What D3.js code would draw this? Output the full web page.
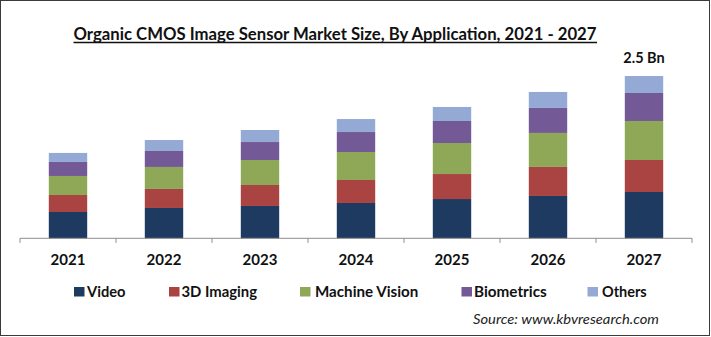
<!DOCTYPE html>
<html>
<head>
<meta charset="utf-8">
<script src="https://cdn.jsdelivr.net/npm/d3@7/dist/d3.min.js"></script>
<style>
  html, body { margin: 0; padding: 0; background: #ffffff; }
  svg { display: block; }
  text { font-family: Lato, "Open Sans", "Liberation Sans", sans-serif; }
</style>
</head>
<body>
<svg id="chart" width="711" height="337"></svg>
<script>
// Market size by application (USD Bn), 2021 - 2027
const years = ["2021", "2022", "2023", "2024", "2025", "2026", "2027"];
const video = [0.405, 0.467, 0.498, 0.544, 0.605, 0.652, 0.713];
const imaging3d = [0.262, 0.293, 0.323, 0.354, 0.385, 0.447, 0.493];
const machineVision = [0.293, 0.339, 0.385, 0.431, 0.478, 0.524, 0.601];
const biometrics = [0.216, 0.246, 0.277, 0.308, 0.339, 0.385, 0.431];
const others = [0.139, 0.169, 0.185, 0.200, 0.216, 0.246, 0.262];

const seriesNames = ["Video", "3D Imaging", "Machine Vision", "Biometrics", "Others"];
const seriesColors = ["#1F3A60", "#A94442", "#8EA857", "#735A96", "#94AAD5"];
const totalLabel = "2.5 Bn";

const titleText = "Organic CMOS Image Sensor Market Size, By Application, 2021 - 2027";
const sourceText = "Source: www.kbvresearch.com";

const seriesValues = [video, imaging3d, machineVision, biometrics, others];
const rows = years.map((yr, i) => {
  const r = { year: yr };
  seriesNames.forEach((s, j) => { r[s] = seriesValues[j][i]; });
  return r;
});

const svg = d3.select("#chart");

// outer frame
svg.append("rect")
  .attr("x", 0.5).attr("y", 0.5)
  .attr("width", 709).attr("height", 335)
  .attr("fill", "#ffffff")
  .attr("stroke", "#3a3a3a").attr("stroke-width", 1);

// title with underline
svg.append("text")
  .attr("x", 73.5).attr("y", 40)
  .attr("font-size", 16.5).attr("font-weight", "bold")
  .attr("fill", "#111")
  .attr("textLength", 523).attr("lengthAdjust", "spacingAndGlyphs")
  .text(titleText);
svg.append("line")
  .attr("x1", 73.5).attr("x2", 597)
  .attr("y1", 42.5).attr("y2", 42.5)
  .attr("stroke", "#111").attr("stroke-width", 1.3);

// scales
const x = d3.scaleBand()
  .domain(years)
  .range([20, 692])
  .paddingInner(0.6)
  .paddingOuter(0.3);

const baseY = 238.3;
const y = d3.scaleLinear()
  .domain([0, 2.5])
  .range([baseY, 76]);

const stacked = d3.stack().keys(seriesNames)(rows);

svg.append("g")
  .selectAll("g")
  .data(stacked)
  .join("g")
  .attr("fill", (d, i) => seriesColors[i])
  .selectAll("rect")
  .data(d => d)
  .join("rect")
  .attr("x", d => x(d.data.year))
  .attr("width", x.bandwidth())
  .attr("y", d => y(d[1]))
  .attr("height", d => y(d[0]) - y(d[1]));

// category axis: baseline plus ticks at band boundaries
const step = x.step();
const left = 20;
const axisG = svg.append("g");
axisG.append("line")
  .attr("x1", left).attr("x2", left + step * years.length)
  .attr("y1", baseY).attr("y2", baseY)
  .attr("stroke", "#8c8c8c").attr("stroke-width", 1);
d3.range(years.length + 1).forEach(k => {
  axisG.append("line")
    .attr("x1", left + step * k).attr("x2", left + step * k)
    .attr("y1", baseY).attr("y2", baseY + 4.5)
    .attr("stroke", "#8c8c8c").attr("stroke-width", 1);
});

svg.append("g")
  .selectAll("text")
  .data(years)
  .join("text")
  .attr("x", d => x(d) + x.bandwidth() / 2)
  .attr("y", 265)
  .attr("text-anchor", "middle")
  .attr("font-size", 15).attr("font-weight", "bold")
  .attr("fill", "#111")
  .text(d => d);

// total label over the last bar
const lastRow = rows[rows.length - 1];
const lastTotal = d3.sum(seriesNames, s => lastRow[s]);
svg.append("text")
  .attr("x", x(lastRow.year) + x.bandwidth() / 2)
  .attr("y", y(lastTotal) - 12.7)
  .attr("text-anchor", "middle")
  .attr("font-size", 14.5).attr("font-weight", "bold")
  .attr("fill", "#111")
  .text(totalLabel);

// legend
const legendSwatchX = [74, 169, 300, 461.5, 587.5];
const legendTextX = [87, 181.5, 315, 474, 602];
const legendTextW = [38.5, 75.5, 103.3, 72.7, 44.7];
const legend = svg.append("g");
seriesNames.forEach((s, i) => {
  legend.append("rect")
    .attr("x", legendSwatchX[i]).attr("y", 287)
    .attr("width", 10.5).attr("height", 9.5)
    .attr("fill", seriesColors[i]);
  legend.append("text")
    .attr("x", legendTextX[i]).attr("y", 296.7)
    .attr("font-size", 15.5).attr("font-weight", "bold")
    .attr("fill", "#111")
    .attr("textLength", legendTextW[i]).attr("lengthAdjust", "spacingAndGlyphs")
    .text(s);
});

// source note
svg.append("text")
  .attr("x", 473).attr("y", 324)
  .attr("font-size", 13.5).attr("font-style", "italic")
  .attr("fill", "#222")
  .attr("textLength", 186).attr("lengthAdjust", "spacingAndGlyphs")
  .text(sourceText);
</script>
</body>
</html>
